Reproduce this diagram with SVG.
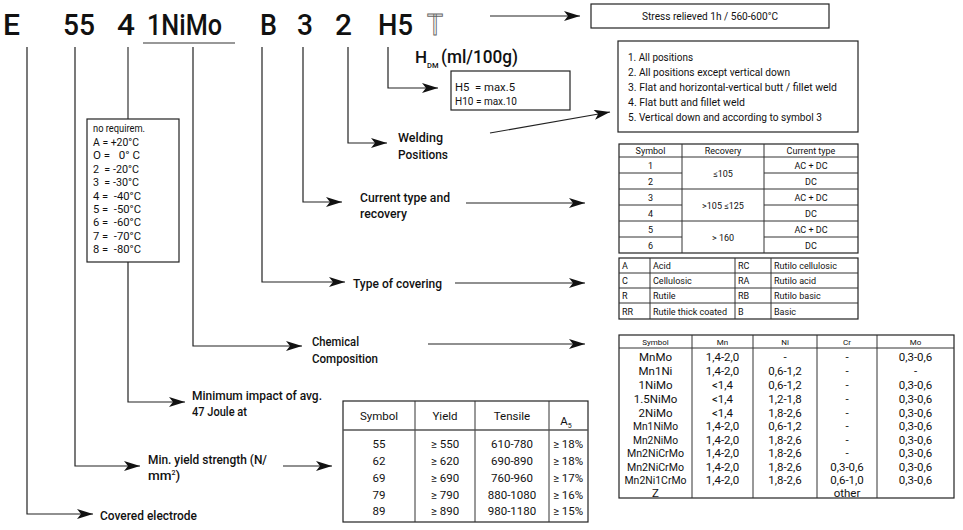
<svg xmlns="http://www.w3.org/2000/svg" width="963" height="530" viewBox="0 0 963 530">
<style>
text{font-family:Roboto,'DejaVu Sans Condensed','Liberation Sans',sans-serif;fill:#111}
.hdr{font-size:30px;text-anchor:middle;font-weight:500}
.lbl{font-size:13.5px;font-weight:500}
.sm{font-size:11.5px}
.tb{font-size:9px;text-anchor:middle}
.tl{font-size:9px}
.ch{font-size:11.5px;text-anchor:middle}
.yt{font-size:11.5px;text-anchor:middle}
.box{fill:#fff;stroke:#222;stroke-width:1.2}
.grid{fill:none;stroke:#333;stroke-width:1}
.conn{fill:none;stroke:#333;stroke-width:1.2}
.arr{fill:none;stroke:#222;stroke-width:1.2;marker-end:url(#ah)}
</style>
<defs>
<marker id="ah" markerUnits="userSpaceOnUse" markerWidth="17" markerHeight="12" refX="16" refY="5" orient="auto">
<path d="M0,0 L16,5 L0,10 L4,5 z" fill="#111"/>
</marker>
</defs>
<rect width="963" height="530" fill="#fff"/>

<g id="header">
<text class="hdr" x="11.5" y="35" textLength="17" lengthAdjust="spacingAndGlyphs">E</text>
<text class="hdr" x="79" y="35" textLength="32" lengthAdjust="spacingAndGlyphs">55</text>
<text class="hdr" x="126" y="35" textLength="18" lengthAdjust="spacingAndGlyphs">4</text>
<text class="hdr" x="184.5" y="35" textLength="75" lengthAdjust="spacingAndGlyphs">1NiMo</text>
<line x1="143" y1="43" x2="235" y2="43" stroke="#333" stroke-width="1.2"/>
<text class="hdr" x="268.5" y="35" textLength="17" lengthAdjust="spacingAndGlyphs">B</text>
<text class="hdr" x="305" y="35" textLength="16" lengthAdjust="spacingAndGlyphs">3</text>
<text class="hdr" x="343.5" y="35" textLength="17" lengthAdjust="spacingAndGlyphs">2</text>
<text class="hdr" x="395.5" y="35" textLength="35" lengthAdjust="spacingAndGlyphs">H5</text>
<text class="hdr" x="435" y="35" textLength="16" lengthAdjust="spacingAndGlyphs" style="fill:#fff;stroke:#666;stroke-width:1;font-weight:400">T</text>
</g>

<g id="connectors">
<path class="arr" d="M27,47 V514 H93"/>
<path class="arr" d="M75,47 V466 H140"/>
<path class="conn" d="M128,47 V119"/>
<path class="arr" d="M128,262 V402 H185"/>
<path class="arr" d="M193,47 V346 H302"/>
<path class="arr" d="M262,47 V282 H345"/>
<path class="arr" d="M303,47 V202 H342"/>
<path class="arr" d="M348,47 V143 H387"/>
<path class="arr" d="M388,47 V88 H438"/>
<path class="arr" d="M490,16 H580"/>
<path class="arr" d="M490,133 L610,112"/>
<path class="arr" d="M466,203 H585"/>
<path class="arr" d="M455,283 H585"/>
<path class="arr" d="M428,344 H585"/>
<path class="arr" d="M283,466 H332"/>
</g>

<g id="stress">
<rect class="box" x="591" y="4" width="238" height="24"/>
<text x="710" y="20" text-anchor="middle" style="font-size:10.5px" textLength="136" lengthAdjust="spacingAndGlyphs">Stress relieved  1h / 560-600°C</text>
</g>

<g id="hydrogen">
<text x="415" y="63" style="font-size:17px;font-weight:500">H</text>
<text x="427" y="68" style="font-size:7.5px;font-weight:500">DM</text>
<text x="441" y="63" style="font-size:19px;font-weight:500" textLength="77" lengthAdjust="spacingAndGlyphs">(ml/100g)</text>
<rect class="box" x="451" y="71" width="119" height="39"/>
<text x="455" y="91" style="font-size:11px" textLength="60" lengthAdjust="spacingAndGlyphs" xml:space="preserve">H5  = max.5</text>
<text x="455" y="105" style="font-size:11px" textLength="62" lengthAdjust="spacingAndGlyphs">H10 = max.10</text>
</g>

<g id="positions">
<rect class="box" x="618" y="41" width="240" height="91"/>
<text class="sm" x="628" y="61" textLength="65" lengthAdjust="spacingAndGlyphs">1. All positions</text>
<text class="sm" x="628" y="76" textLength="162" lengthAdjust="spacingAndGlyphs">2. All positions except vertical down</text>
<text class="sm" x="628" y="91" textLength="209" lengthAdjust="spacingAndGlyphs">3. Flat and horizontal-vertical butt / fillet weld</text>
<text class="sm" x="628" y="106" textLength="117" lengthAdjust="spacingAndGlyphs">4. Flat butt and fillet weld</text>
<text class="sm" x="628" y="121" textLength="194" lengthAdjust="spacingAndGlyphs">5. Vertical down and according to symbol 3</text>
</g>

<g id="temperature">
<rect class="box" x="87" y="119" width="92" height="143"/>
<text x="93" y="132" style="font-size:10.5px" textLength="52" lengthAdjust="spacingAndGlyphs">no requirem.</text>
<text class="sm" x="93" y="146" textLength="46" lengthAdjust="spacingAndGlyphs">A = +20°C</text>
<text class="sm" x="93" y="159.4" xml:space="preserve" textLength="47" lengthAdjust="spacingAndGlyphs">O =   0° C</text>
<text class="sm" x="93" y="172.8" xml:space="preserve" textLength="46" lengthAdjust="spacingAndGlyphs">2  = -20°C</text>
<text class="sm" x="93" y="186.2" xml:space="preserve" textLength="46" lengthAdjust="spacingAndGlyphs">3  = -30°C</text>
<text class="sm" x="93" y="199.6" xml:space="preserve" textLength="48" lengthAdjust="spacingAndGlyphs">4 =  -40°C</text>
<text class="sm" x="93" y="213" xml:space="preserve" textLength="48" lengthAdjust="spacingAndGlyphs">5 =  -50°C</text>
<text class="sm" x="93" y="226.4" xml:space="preserve" textLength="48" lengthAdjust="spacingAndGlyphs">6 =  -60°C</text>
<text class="sm" x="93" y="239.8" xml:space="preserve" textLength="48" lengthAdjust="spacingAndGlyphs">7 =  -70°C</text>
<text class="sm" x="93" y="253.2" xml:space="preserve" textLength="48" lengthAdjust="spacingAndGlyphs">8 =  -80°C</text>
</g>

<g id="lbl-welding">
<text class="lbl" x="398" y="142" textLength="45" lengthAdjust="spacingAndGlyphs">Welding</text>
<text class="lbl" x="398" y="159" textLength="50" lengthAdjust="spacingAndGlyphs">Positions</text>
</g>
<g id="lbl-current">
<text class="lbl" x="360" y="202" textLength="90" lengthAdjust="spacingAndGlyphs">Current type and</text>
<text class="lbl" x="360" y="218" textLength="47" lengthAdjust="spacingAndGlyphs">recovery</text>
</g>
<g id="lbl-covering">
<text class="lbl" x="353" y="288" textLength="89" lengthAdjust="spacingAndGlyphs">Type of covering</text>
</g>
<g id="lbl-chemical">
<text class="lbl" x="312" y="346" textLength="47" lengthAdjust="spacingAndGlyphs">Chemical</text>
<text class="lbl" x="312" y="363" textLength="66" lengthAdjust="spacingAndGlyphs">Composition</text>
</g>
<g id="lbl-impact">
<text class="lbl" x="192" y="400" textLength="130" lengthAdjust="spacingAndGlyphs">Minimum impact of avg.</text>
<text class="lbl" x="192" y="416" textLength="55" lengthAdjust="spacingAndGlyphs">47 Joule at</text>
</g>
<g id="lbl-yield">
<text class="lbl" x="148" y="464" textLength="119" lengthAdjust="spacingAndGlyphs">Min. yield strength (N/</text>
<text class="lbl" x="148" y="480">mm<tspan style="font-size:7px" dy="-5">2</tspan><tspan dy="5">)</tspan></text>
</g>
<g id="lbl-covered">
<text class="lbl" x="100" y="520" textLength="97" lengthAdjust="spacingAndGlyphs">Covered electrode</text>
</g>

<g id="table-current">
<rect class="box" x="619" y="144" width="239" height="109"/>
<path class="grid" d="M682,144 V253 M764,144 V253 M619,157 H858 M619,173 H682 M764,173 H858 M619,189 H858 M619,205 H682 M764,205 H858 M619,221 H858 M619,237 H682 M764,237 H858"/>
<text class="tb" x="650.5" y="154">Symbol</text>
<text class="tb" x="723" y="154">Recovery</text>
<text class="tb" x="811" y="154">Current type</text>
<text class="tb" x="650.5" y="168.5">1</text>
<text class="tb" x="650.5" y="184.5">2</text>
<text class="tb" x="650.5" y="200.5">3</text>
<text class="tb" x="650.5" y="216.5">4</text>
<text class="tb" x="650.5" y="232.5">5</text>
<text class="tb" x="650.5" y="248.5">6</text>
<text class="tb" x="723" y="176.5">≤105</text>
<text class="tb" x="723" y="208.5">&gt;105 ≤125</text>
<text class="tb" x="723" y="240.5">&gt; 160</text>
<text class="tb" x="811" y="168.5">AC + DC</text>
<text class="tb" x="811" y="184.5">DC</text>
<text class="tb" x="811" y="200.5">AC + DC</text>
<text class="tb" x="811" y="216.5">DC</text>
<text class="tb" x="811" y="232.5">AC + DC</text>
<text class="tb" x="811" y="248.5">DC</text>
</g>

<g id="table-covering">
<rect class="box" x="619" y="258" width="239" height="61"/>
<path class="grid" d="M650,258 V319 M735,258 V319 M771,258 V319 M619,273 H858 M619,288 H858 M619,303 H858"/>
<text class="tl" x="622" y="269">A</text>
<text class="tl" x="653" y="269">Acid</text>
<text class="tl" x="738" y="269">RC</text>
<text class="tl" x="774" y="269">Rutilo cellulosic</text>
<text class="tl" x="622" y="284">C</text>
<text class="tl" x="653" y="284">Cellulosic</text>
<text class="tl" x="738" y="284">RA</text>
<text class="tl" x="774" y="284">Rutilo acid</text>
<text class="tl" x="622" y="299">R</text>
<text class="tl" x="653" y="299">Rutile</text>
<text class="tl" x="738" y="299">RB</text>
<text class="tl" x="774" y="299">Rutilo basic</text>
<text class="tl" x="622" y="314.5">RR</text>
<text class="tl" x="653" y="314.5">Rutile thick coated</text>
<text class="tl" x="738" y="314.5">B</text>
<text class="tl" x="774" y="314.5">Basic</text>
</g>

<g id="table-chemical">
<rect class="box" x="619" y="335" width="335" height="163"/>
<path class="grid" d="M692,335 V498 M753,335 V498 M817,335 V498 M877,335 V498 M619,348 H954"/>
<text class="tb" x="655.5" y="345" style="font-size:8px">Symbol</text>
<text class="tb" x="722.5" y="345" style="font-size:8px">Mn</text>
<text class="tb" x="785" y="345" style="font-size:8px">Ni</text>
<text class="tb" x="847" y="345" style="font-size:8px">Cr</text>
<text class="tb" x="915.5" y="345" style="font-size:8px">Mo</text>
<g class="rows">
<text class="ch" x="655.5" y="361">MnMo</text><text class="ch" x="722.5" y="361">1,4-2,0</text><text class="ch" x="785" y="361">-</text><text class="ch" x="847" y="361">-</text><text class="ch" x="915.5" y="361">0,3-0,6</text>
<text class="ch" x="655.5" y="375">Mn1Ni</text><text class="ch" x="722.5" y="375">1,4-2,0</text><text class="ch" x="785" y="375">0,6-1,2</text><text class="ch" x="847" y="375">-</text><text class="ch" x="915.5" y="375">-</text>
<text class="ch" x="655.5" y="389">1NiMo</text><text class="ch" x="722.5" y="389">&lt;1,4</text><text class="ch" x="785" y="389">0,6-1,2</text><text class="ch" x="847" y="389">-</text><text class="ch" x="915.5" y="389">0,3-0,6</text>
<text class="ch" x="655.5" y="403">1.5NiMo</text><text class="ch" x="722.5" y="403">&lt;1,4</text><text class="ch" x="785" y="403">1,2-1,8</text><text class="ch" x="847" y="403">-</text><text class="ch" x="915.5" y="403">0,3-0,6</text>
<text class="ch" x="655.5" y="416.5">2NiMo</text><text class="ch" x="722.5" y="416.5">&lt;1,4</text><text class="ch" x="785" y="416.5">1,8-2,6</text><text class="ch" x="847" y="416.5">-</text><text class="ch" x="915.5" y="416.5">0,3-0,6</text>
<text class="ch" x="655.5" y="430" textLength="45" lengthAdjust="spacingAndGlyphs">Mn1NiMo</text><text class="ch" x="722.5" y="430">1,4-2,0</text><text class="ch" x="785" y="430">0,6-1,2</text><text class="ch" x="847" y="430">-</text><text class="ch" x="915.5" y="430">0,3-0,6</text>
<text class="ch" x="655.5" y="443.5" textLength="45" lengthAdjust="spacingAndGlyphs">Mn2NiMo</text><text class="ch" x="722.5" y="443.5">1,4-2,0</text><text class="ch" x="785" y="443.5">1,8-2,6</text><text class="ch" x="847" y="443.5">-</text><text class="ch" x="915.5" y="443.5">0,3-0,6</text>
<text class="ch" x="655.5" y="457" textLength="57" lengthAdjust="spacingAndGlyphs">Mn2NiCrMo</text><text class="ch" x="722.5" y="457">1,4-2,0</text><text class="ch" x="785" y="457">1,8-2,6</text><text class="ch" x="847" y="457">-</text><text class="ch" x="915.5" y="457">0,3-0,6</text>
<text class="ch" x="655.5" y="470.5" textLength="57" lengthAdjust="spacingAndGlyphs">Mn2NiCrMo</text><text class="ch" x="722.5" y="470.5">1,4-2,0</text><text class="ch" x="785" y="470.5">1,8-2,6</text><text class="ch" x="847" y="470.5">0,3-0,6</text><text class="ch" x="915.5" y="470.5">0,3-0,6</text>
<text class="ch" x="655.5" y="484" textLength="62" lengthAdjust="spacingAndGlyphs">Mn2Ni1CrMo</text><text class="ch" x="722.5" y="484">1,4-2,0</text><text class="ch" x="785" y="484">1,8-2,6</text><text class="ch" x="847" y="484">0,6-1,0</text><text class="ch" x="915.5" y="484">0,3-0,6</text>
<text class="ch" x="655.5" y="496.5">Z</text><text class="ch" x="847" y="497">other</text>
</g>
</g>

<g id="table-yield">
<rect class="box" x="343" y="401" width="245" height="121"/>
<path class="grid" d="M415,401 V522 M475,401 V522 M549,401 V522"/>
<line x1="343" y1="430" x2="588" y2="430" stroke="#555" stroke-width="1.5"/>
<text class="yt" x="379" y="420">Symbol</text>
<text class="yt" x="445" y="420">Yield</text>
<text class="yt" x="512" y="420">Tensile</text>
<text class="yt" x="566" y="425">A<tspan style="font-size:7px" dy="3">5</tspan></text>
<text class="yt" x="379" y="447.5">55</text><text class="yt" x="445" y="447.5">≥ 550</text><text class="yt" x="512" y="447.5">610-780</text><text class="yt" x="568" y="447.5">≥ 18%</text>
<text class="yt" x="379" y="464.5">62</text><text class="yt" x="445" y="464.5">≥ 620</text><text class="yt" x="512" y="464.5">690-890</text><text class="yt" x="568" y="464.5">≥ 18%</text>
<text class="yt" x="379" y="481.5">69</text><text class="yt" x="445" y="481.5">≥ 690</text><text class="yt" x="512" y="481.5">760-960</text><text class="yt" x="568" y="481.5">≥ 17%</text>
<text class="yt" x="379" y="498.5">79</text><text class="yt" x="445" y="498.5">≥ 790</text><text class="yt" x="512" y="498.5">880-1080</text><text class="yt" x="568" y="498.5">≥ 16%</text>
<text class="yt" x="379" y="514.5">89</text><text class="yt" x="445" y="514.5">≥ 890</text><text class="yt" x="512" y="514.5">980-1180</text><text class="yt" x="568" y="514.5">≥ 15%</text>
</g>
</svg>
